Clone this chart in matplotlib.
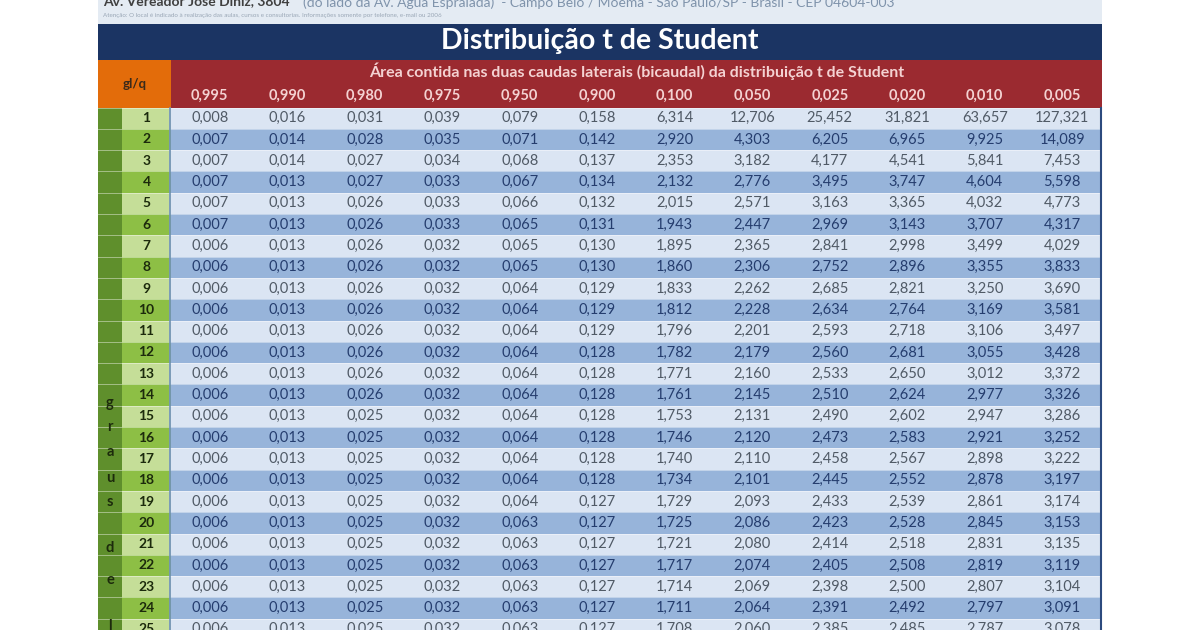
import matplotlib.pyplot as plt
from matplotlib.patches import Rectangle

plt.rcParams['font.family'] = ['Lato', 'DejaVu Sans']

# tabela t de Student (bicaudal), gl = 1..25
alphas = ['0,995', '0,990', '0,980', '0,975', '0,950', '0,900',
          '0,100', '0,050', '0,025', '0,020', '0,010', '0,005']
gl = list(range(1, 26))

c995 = [0.008] + [0.007]*5 + [0.006]*19
c990 = [0.016, 0.014, 0.014] + [0.013]*22
c980 = [0.031, 0.028, 0.027, 0.027] + [0.026]*10 + [0.025]*11
c975 = [0.039, 0.035, 0.034, 0.033, 0.033, 0.033] + [0.032]*19
c950 = [0.079, 0.071, 0.068, 0.067, 0.066, 0.065, 0.065, 0.065] + [0.064]*11 + [0.063]*6
c900 = [0.158, 0.142, 0.137, 0.134, 0.132, 0.131, 0.130, 0.130, 0.129, 0.129, 0.129] + [0.128]*7 + [0.127]*7
c100 = [6.314, 2.920, 2.353, 2.132, 2.015, 1.943, 1.895, 1.860, 1.833, 1.812, 1.796, 1.782, 1.771,
        1.761, 1.753, 1.746, 1.740, 1.734, 1.729, 1.725, 1.721, 1.717, 1.714, 1.711, 1.708]
c050 = [12.706, 4.303, 3.182, 2.776, 2.571, 2.447, 2.365, 2.306, 2.262, 2.228, 2.201, 2.179, 2.160,
        2.145, 2.131, 2.120, 2.110, 2.101, 2.093, 2.086, 2.080, 2.074, 2.069, 2.064, 2.060]
c025 = [25.452, 6.205, 4.177, 3.495, 3.163, 2.969, 2.841, 2.752, 2.685, 2.634, 2.593, 2.560, 2.533,
        2.510, 2.490, 2.473, 2.458, 2.445, 2.433, 2.423, 2.414, 2.405, 2.398, 2.391, 2.385]
c020 = [31.821, 6.965, 4.541, 3.747, 3.365, 3.143, 2.998, 2.896, 2.821, 2.764, 2.718, 2.681, 2.650,
        2.624, 2.602, 2.583, 2.567, 2.552, 2.539, 2.528, 2.518, 2.508, 2.500, 2.492, 2.485]
c010 = [63.657, 9.925, 5.841, 4.604, 4.032, 3.707, 3.499, 3.355, 3.250, 3.169, 3.106, 3.055, 3.012,
        2.977, 2.947, 2.921, 2.898, 2.878, 2.861, 2.845, 2.831, 2.819, 2.807, 2.797, 2.787]
c005 = [127.321, 14.089, 7.453, 5.598, 4.773, 4.317, 4.029, 3.833, 3.690, 3.581, 3.497, 3.428, 3.372,
        3.326, 3.286, 3.252, 3.222, 3.197, 3.174, 3.153, 3.135, 3.119, 3.104, 3.091, 3.078]
cols = [c995, c990, c980, c975, c950, c900, c100, c050, c025, c020, c010, c005]

side_label = ['g', 'r', 'a', 'u', 's', 'd', 'e', 'l']

fig = plt.figure(figsize=(12, 6.3), dpi=100)
ax = fig.add_axes([0, 0, 1, 1])
ax.set_xlim(0, 1200)
ax.set_ylim(630, 0)
ax.axis('off')

x0, x1 = 98, 1102
xnum = 122
xdata = 171
cw = (x1 - 1 - xdata) / len(alphas)
ytop = 107.5
rh = 21.3
# posicao (em px) das letras verticais
side_y = [403, 427, 452, 478, 502, 548, 580, 626]

def fmt(v):
    return ('%.3f' % v).replace('.', ',')

# faixa do endereco no topo
ax.add_patch(Rectangle((x0, 0), x1 - x0, 24, color='#e4ebf3', lw=0))
ax.text(103, 1.5, 'Av. Vereador José Diniz, 3804', fontsize=10, fontweight='bold',
        color='#404040', va='center', ha='left')
ax.text(303, 1.5, '(do lado da Av. Água Espraiada)  - Campo Belo / Moema - São Paulo/SP - Brasil - CEP 04604-003',
        fontsize=10, color='#7f93ab', va='center', ha='left')
ax.text(103, 15, 'Atenção: O local é indicado à realização das aulas, cursos e consultorias. '
        'Informações somente por telefone, e-mail ou 2006',
        fontsize=4.5, color='#9aa7b6', va='center', ha='left')

# titulo
ax.add_patch(Rectangle((x0, 24), x1 - x0, 36, color='#1b3463', lw=0))
ax.text((x0 + x1) / 2, 41, 'Distribuição t de Student', fontsize=20.5, fontweight='bold',
        color='white', ha='center', va='center')

# cabecalho
ax.add_patch(Rectangle((x0, 60), xdata - x0, ytop - 60, color='#e36c0a', lw=0))
ax.add_patch(Rectangle((xdata, 60), x1 - xdata, ytop - 60, color='#9b2a30', lw=0))
ax.text((x0 + xdata) / 2, 84, 'gl/q', fontsize=9.5, fontweight='bold', color='#3a2a1a',
        ha='center', va='center')
ax.text(xdata + (x1 - xdata) / 2, 71,
        'Área contida nas duas caudas laterais (bicaudal) da distribuição t de Student',
        fontsize=11.5, fontweight='bold', color='#f4d2d2', ha='center', va='center')
for j, a in enumerate(alphas):
    ax.text(xdata + (j + 0.5) * cw, 96, a, fontsize=10.5, fontweight='bold', color='#f4d2d2',
            ha='center', va='center')

# linhas da tabela
for i, g in enumerate(gl):
    y = ytop + i * rh
    odd = i % 2 == 0
    ax.add_patch(Rectangle((x0, y), xnum - x0, rh, color='#5f8f2c', lw=0))
    ax.add_patch(Rectangle((xnum, y), xdata - xnum, rh,
                           color='#c5de98' if odd else '#8dbf45', lw=0))
    ax.add_patch(Rectangle((xdata, y), x1 - xdata, rh,
                           color='#dbe5f3' if odd else '#97b4da', lw=0))
    ax.plot([x0, x1], [y, y], color='white', lw=0.6, alpha=0.5)
    ax.text((xnum + xdata) / 2, y + rh / 2, str(g), fontsize=10, fontweight='bold',
            color='#1c2a0c', ha='center', va='center')
    tc = '#505a66' if odd else '#253d6e'
    for j, c in enumerate(cols):
        ax.text(xdata + (j + 0.5) * cw, y + rh / 2, fmt(c[i]), fontsize=10.5,
                color=tc, ha='center', va='center')

# letras verticais "graus de l..."
for ch, yy in zip(side_label, side_y):
    ax.text((x0 + xnum) / 2, yy, ch, fontsize=10.5, fontweight='bold',
            color='#1c2a0c', ha='center', va='center')

# bordas
ax.plot([xdata - 1, xdata - 1], [ytop, 630], color='#6f8fbf', lw=1.2)
ax.plot([x1 - 1, x1 - 1], [ytop, 630], color='#2c4a7e', lw=1.5)

fig.savefig('out.png', dpi=100)
